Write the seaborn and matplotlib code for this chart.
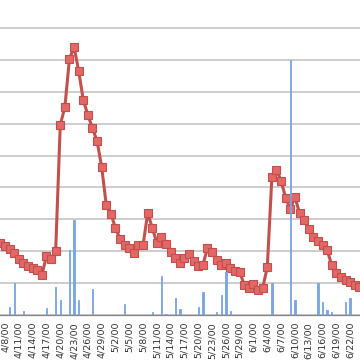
import pandas as pd
import numpy as np
import matplotlib
matplotlib.use("Agg")
import matplotlib.pyplot as plt
import seaborn as sns

sns.set_style("white")

# daily dates, 4/7/00 .. 6/24/00
dates = pd.date_range("2000-04-07", "2000-06-24", freq="D")

# red line series
line_vals = [
    22.6, 21.6, 20.7, 19.4, 17.6, 16.3, 15.4, 14.7, 14.1, 12.5,
    18.5, 17.6, 20.1, 59.6, 65.2, 80.3, 84.0, 76.5, 67.4, 62.7,
    58.6, 54.5, 46.4, 34.5, 31.7, 27.3, 23.8, 21.9, 21.0, 19.4,
    21.9, 21.9, 32.0, 27.3, 22.6, 24.5, 22.3, 19.7, 17.9, 16.3,
    17.9, 19.1, 16.9, 15.4, 15.7, 21.0, 19.7, 17.2, 15.7, 16.3,
    14.7, 13.8, 13.5, 9.4, 8.5, 9.7, 7.8, 8.5, 15.0, 43.3,
    45.5, 42.0, 36.7, 33.2, 37.0, 32.0, 29.8, 27.0, 24.5, 23.2,
    21.9, 20.4, 15.7, 13.2, 11.9, 11.0, 10.3, 9.4, 8.8,
]

# blue column series
bar_vals = [
    0, 0, 2.5, 10.0, 0, 1.3, 0, 0, 0, 0,
    2.2, 0, 8.8, 4.7, 0, 20.4, 29.8, 4.7, 0, 0,
    8.2, 0, 0, 0, 0, 0, 0, 3.4, 0, 0,
    0, 0, 0, 0.9, 0, 12.2, 0.3, 0, 5.3, 1.9,
    0, 0, 0, 2.5, 7.2, 0, 0, 0.9, 6.3, 13.5,
    1.3, 0, 0, 0, 0, 0, 0, 0, 0, 10.0,
    0, 0, 0, 79.9, 4.7, 0, 0, 0, 0, 10.0,
    4.1, 1.6, 0.9, 0, 0, 4.1, 5.3, 0, 0,
]

df = pd.DataFrame({"day": np.arange(len(dates)), "line": line_vals, "bars": bar_vals})

fig = plt.figure(figsize=(3.6, 3.6), dpi=100)
ax = fig.add_axes([0, 45 / 360, 1, 319 / 360])

ax.set_ylim(0, 100)
ax.set_xlim(-0.1, 78.15)
ax.set_yticks(np.arange(0, 91, 10))
ax.yaxis.grid(True, color="#c0c0c0", linewidth=1.1)
ax.set_axisbelow(True)

sns.lineplot(data=df, x="day", y="line", ax=ax, color="#c4504d", linewidth=2.2,
             marker="s", markersize=6, markerfacecolor="#e36764",
             markeredgecolor="#c0504d", markeredgewidth=0.8, zorder=2)

ax.bar(df["day"], df["bars"], width=0.3, color="#7aa5e2",
       edgecolor="#7aa5e2", linewidth=0.6, zorder=3)

tick_days = np.arange(1, len(dates), 3)
ax.set_xticks(tick_days)
ax.set_xticklabels([f"{d.month}/{d.day}/{d:%y}" for d in dates[tick_days]],
                   rotation=90, fontsize=6.8, color="#333333")
ax.tick_params(axis="x", length=3, width=0.8, color="#868686", pad=2)
ax.tick_params(axis="y", left=False, labelleft=False)
ax.set_xlabel("")
ax.set_ylabel("")

for s in ["top", "right", "left"]:
    ax.spines[s].set_visible(False)
ax.spines["bottom"].set_color("#868686")
ax.spines["bottom"].set_linewidth(0.9)

fig.savefig("out.png", dpi=100)
